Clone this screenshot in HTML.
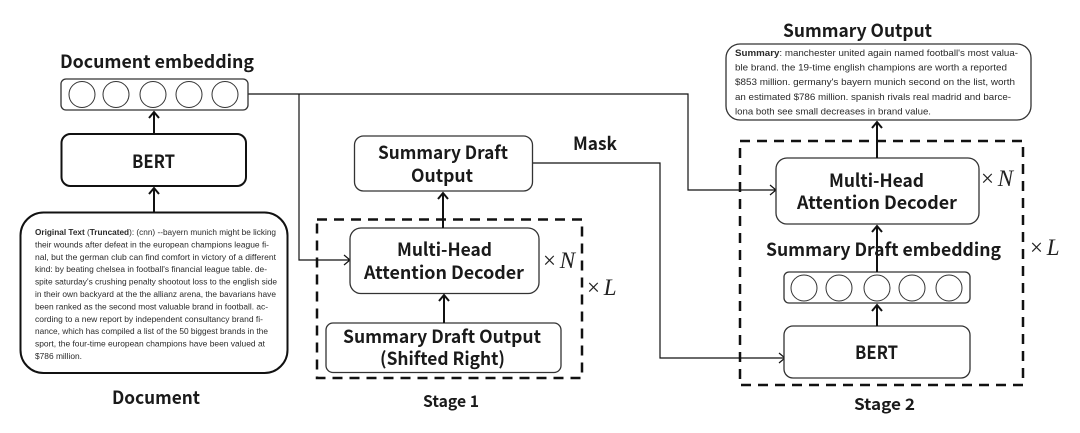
<!DOCTYPE html>
<html><head><meta charset="utf-8">
<style>
html,body{margin:0;padding:0;background:#fff;width:1080px;height:433px;overflow:hidden}
svg{display:block}
.l{font-family:"Noto Sans CJK KR","Liberation Sans",sans-serif;font-weight:700;font-size:18px;fill:#1a1a1a}
.b{font-size:16px}
.s{font-family:"Liberation Sans","Noto Sans CJK KR",sans-serif;font-size:8.6px;fill:#2a2a2a}
.s2{font-size:9.2px}
.m{font-family:"Liberation Serif",serif;font-size:23px;fill:#222}
.i{font-style:italic}
.box{fill:#fff;stroke:#333;stroke-width:1.3}
.c{fill:#fff;stroke:#333;stroke-width:1}
.line{fill:none;stroke:#111;stroke-width:1.2}
.a2{fill:none;stroke:#111;stroke-width:2}
.dash{fill:none;stroke:#111;stroke-width:2.5;stroke-dasharray:10 7}
</style></head>
<body>
<svg width="1080" height="433" viewBox="0 0 1080 433" xmlns="http://www.w3.org/2000/svg">
<rect width="1080" height="433" fill="#fff"/>

<!-- connectors -->
<path class="line" d="M248 94H688V190H775M770 185l6 5l-6 5"/>
<path class="line" d="M299 94V260H349M344 255l6 5l-6 5"/>
<path class="line" d="M532 163H660V358H784M779 353l6 5l-6 5"/>

<!-- dashed -->
<rect class="dash" x="317" y="219.500" width="265" height="158.500"/>
<rect class="dash" x="740" y="141" width="283" height="244"/>

<!-- left column -->
<rect class="box" x="61" y="79" width="187" height="31" rx="5"/>
<circle class="c" cx="82" cy="94.500" r="13"/><circle class="c" cx="116" cy="94.500" r="13"/><circle class="c" cx="153" cy="94.500" r="13"/><circle class="c" cx="189" cy="94.500" r="13"/><circle class="c" cx="225" cy="94.500" r="13"/>
<rect x="61.500" y="134" width="184.500" height="52" rx="9" fill="#fff" stroke="#111" stroke-width="2"/>
<rect x="20.500" y="212.500" width="267" height="160.500" rx="23" fill="#fff" stroke="#111" stroke-width="2"/>
<path class="a2" d="M154 134V112M149 118l5-6l5 6"/>
<path class="a2" d="M154 212V188M149 194l5-6l5 6"/>

<!-- stage 1 -->
<rect class="box" x="354.500" y="136" width="178" height="55" rx="9"/>
<rect class="box" x="350" y="228" width="189" height="65.500" rx="11"/>
<rect class="box" x="326" y="323" width="235" height="49.500" rx="7"/>
<path class="a2" d="M443 228V193M438 199l5-6l5 6"/>
<path class="a2" d="M444 323V295M439 301l5-6l5 6"/>

<!-- stage 2 -->
<rect class="box" x="726" y="44" width="305" height="76" rx="14"/>
<rect class="box" x="776" y="158" width="203" height="66" rx="11"/>
<rect class="box" x="784" y="272" width="186" height="31" rx="5"/>
<circle class="c" cx="804" cy="288" r="13"/><circle class="c" cx="839" cy="288" r="13"/><circle class="c" cx="877" cy="288" r="13"/><circle class="c" cx="912" cy="288" r="13"/><circle class="c" cx="949" cy="288" r="13"/>
<rect class="box" x="784" y="326" width="186" height="52" rx="9"/>
<path class="a2" d="M877 158V122M872 128l5-6l5 6"/>
<path class="a2" d="M877 272V226M872 232l5-6l5 6"/>
<path class="a2" d="M877 326V305M872 311l5-6l5 6"/>

<!-- labels -->
<text class="l" x="60" y="68" textLength="194" lengthAdjust="spacingAndGlyphs">Document embedding</text>
<text class="l" x="132" y="168" textLength="43" lengthAdjust="spacingAndGlyphs">BERT</text>
<text class="l" x="112" y="404" textLength="88" lengthAdjust="spacingAndGlyphs">Document</text>
<text class="l" x="378" y="159" textLength="130" lengthAdjust="spacingAndGlyphs">Summary Draft</text>
<text class="l" x="411" y="182" textLength="62" lengthAdjust="spacingAndGlyphs">Output</text>
<text class="l" x="573" y="150" textLength="44" lengthAdjust="spacingAndGlyphs">Mask</text>
<text class="l" x="397" y="256" textLength="95" lengthAdjust="spacingAndGlyphs">Multi-Head</text>
<text class="l" x="364" y="279" textLength="160" lengthAdjust="spacingAndGlyphs">Attention Decoder</text>
<text class="l" x="343" y="343" textLength="198" lengthAdjust="spacingAndGlyphs">Summary Draft Output</text>
<text class="l" x="380" y="365" textLength="125" lengthAdjust="spacingAndGlyphs">(Shifted Right)</text>
<text class="l b" x="423" y="407" textLength="56" lengthAdjust="spacingAndGlyphs">Stage 1</text>
<text class="l" x="783" y="37" textLength="149" lengthAdjust="spacingAndGlyphs">Summary Output</text>
<text class="l" x="829" y="187" textLength="95" lengthAdjust="spacingAndGlyphs">Multi-Head</text>
<text class="l" x="797" y="209" textLength="160" lengthAdjust="spacingAndGlyphs">Attention Decoder</text>
<text class="l" x="766" y="256" textLength="235" lengthAdjust="spacingAndGlyphs">Summary Draft embedding</text>
<text class="l" x="855" y="359" textLength="43" lengthAdjust="spacingAndGlyphs">BERT</text>
<text class="l b" x="854" y="410" textLength="61" lengthAdjust="spacingAndGlyphs">Stage 2</text>

<text class="m" x="543" y="268">× <tspan class="i" dx="-2">N</tspan></text>
<text class="m" x="587" y="295">× <tspan class="i" dx="-2">L</tspan></text>
<text class="m" x="981" y="186">× <tspan class="i" dx="-2">N</tspan></text>
<text class="m" x="1030" y="255">× <tspan class="i" dx="-2">L</tspan></text>

<!-- document text -->
<text class="s" x="35" y="235" textLength="241" lengthAdjust="spacingAndGlyphs"><tspan font-weight="700">Original Text</tspan> (<tspan font-weight="700">Truncated</tspan>): (cnn) --bayern munich might be licking</text>
<text class="s" x="35" y="247.400" textLength="234" lengthAdjust="spacingAndGlyphs">their wounds after defeat in the european champions league fi-</text>
<text class="s" x="35" y="259.800" textLength="241" lengthAdjust="spacingAndGlyphs">nal, but the german club can find comfort in victory of a different</text>
<text class="s" x="35" y="272.200" textLength="232" lengthAdjust="spacingAndGlyphs">kind: by beating chelsea in football's financial league table. de-</text>
<text class="s" x="35" y="284.600" textLength="242" lengthAdjust="spacingAndGlyphs">spite saturday's crushing penalty shootout loss to the english side</text>
<text class="s" x="35" y="297" textLength="241" lengthAdjust="spacingAndGlyphs">in their own backyard at the the allianz arena, the bavarians have</text>
<text class="s" x="35" y="309.400" textLength="233" lengthAdjust="spacingAndGlyphs">been ranked as the second most valuable brand in football. ac-</text>
<text class="s" x="35" y="321.800" textLength="228" lengthAdjust="spacingAndGlyphs">cording to a new report by independent consultancy brand fi-</text>
<text class="s" x="35" y="334.200" textLength="233" lengthAdjust="spacingAndGlyphs">nance, which has compiled a list of the 50 biggest brands in the</text>
<text class="s" x="35" y="346.600" textLength="230" lengthAdjust="spacingAndGlyphs">sport, the four-time european champions have been valued at</text>
<text class="s" x="35" y="359" textLength="47" lengthAdjust="spacingAndGlyphs">$786 million.</text>

<!-- summary text -->
<text class="s s2" x="735" y="56" textLength="283" lengthAdjust="spacingAndGlyphs"><tspan font-weight="700">Summary</tspan>: manchester united again named football's most valua-</text>
<text class="s s2" x="735" y="70.600" textLength="272" lengthAdjust="spacingAndGlyphs">ble brand. the 19-time english champions are worth a reported</text>
<text class="s s2" x="735" y="85.200" textLength="280" lengthAdjust="spacingAndGlyphs">$853 million. germany's bayern munich second on the list, worth</text>
<text class="s s2" x="735" y="99.800" textLength="276" lengthAdjust="spacingAndGlyphs">an estimated $786 million. spanish rivals real madrid and barce-</text>
<text class="s s2" x="735" y="114.400" textLength="196" lengthAdjust="spacingAndGlyphs">lona both see small decreases in brand value.</text>
</svg>
</body></html>
